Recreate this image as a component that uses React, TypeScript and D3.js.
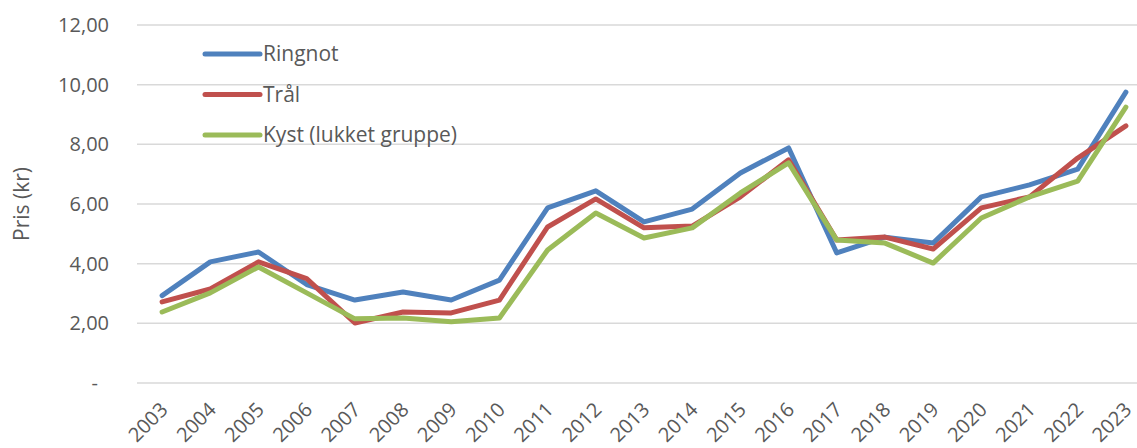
import React, { useEffect, useRef } from 'react';
import * as d3 from 'd3';

const years = [
  '2003', '2004', '2005', '2006', '2007', '2008', '2009', '2010', '2011', '2012', '2013',
  '2014', '2015', '2016', '2017', '2018', '2019', '2020', '2021', '2022', '2023',
];
const ringnot = [
  2.93, 4.06, 4.39, 3.3, 2.78, 3.05, 2.78, 3.45, 5.87, 6.44, 5.4,
  5.83, 7.04, 7.88, 4.36, 4.89, 4.69, 6.24, 6.64, 7.17, 9.75,
];
const traal = [
  2.72, 3.15, 4.06, 3.5, 2.01, 2.38, 2.35, 2.78, 5.23, 6.17, 5.2,
  5.26, 6.24, 7.48, 4.79, 4.89, 4.49, 5.87, 6.24, 7.54, 8.62,
];
const kyst = [
  2.38, 3.02, 3.89, 3.02, 2.15, 2.18, 2.05, 2.18, 4.46, 5.7, 4.86,
  5.2, 6.37, 7.38, 4.79, 4.69, 4.02, 5.53, 6.24, 6.77, 9.25,
];
const seriesNames = ['Ringnot', 'Trål', 'Kyst (lukket gruppe)'];
const yTicks = [0, 2, 4, 6, 8, 10, 12];

const colors = ['#4f81bd', '#c0504d', '#9bbb59'];
const font = "'Open Sans', sans-serif";
const textColor = '#595959';

export default function App() {
  const svgRef = useRef<SVGSVGElement | null>(null);

  const width = 1137;
  const height = 448;
  // plot area
  const margin = { top: 25, right: -13, bottom: 65, left: 138 };

  useEffect(() => {
    const svg = d3.select(svgRef.current);
    svg.selectAll('*').remove();

    const x = d3
      .scaleBand()
      .domain(years)
      .range([margin.left, width - margin.right]);
    const y = d3
      .scaleLinear()
      .domain([0, 12])
      .range([height - margin.bottom, margin.top]);

    // horizontal grid lines
    svg
      .append('g')
      .selectAll('line')
      .data(yTicks)
      .join('line')
      .attr('x1', margin.left - 1)
      .attr('x2', width)
      .attr('y1', (d) => y(d))
      .attr('y2', (d) => y(d))
      .style('stroke', '#d9d9d9')
      .style('stroke-width', '1.5');

    // y tick labels
    svg
      .append('g')
      .selectAll('text')
      .data(yTicks)
      .join('text')
      .attr('x', (d) => (d === 0 ? 98 : 109))
      .attr('y', (d) => y(d))
      .attr('dy', '0.35em')
      .attr('text-anchor', 'end')
      .style('font-family', font)
      .style('font-size', '20px')
      .style('fill', textColor)
      .text((d) => (d === 0 ? '-' : d3.format('.2f')(d).replace('.', ',')));

    // y axis title
    svg
      .append('text')
      .attr('transform', `translate(29, ${y(6)}) rotate(-90)`)
      .attr('text-anchor', 'middle')
      .style('font-family', font)
      .style('font-size', '21px')
      .style('fill', textColor)
      .text('Pris (kr)');

    // x tick labels, rotated
    const cx = (d: string) => (x(d) || 0) + x.bandwidth() / 2;
    svg
      .append('g')
      .selectAll('text')
      .data(years)
      .join('text')
      .attr('transform', (d) => `translate(${cx(d) + 2}, ${height - margin.bottom + 23}) rotate(-45)`)
      .attr('text-anchor', 'end')
      .attr('dy', '0.35em')
      .style('font-family', font)
      .style('font-size', '20px')
      .style('fill', textColor)
      .text((d) => d);

    // lines
    const line = d3
      .line<number>()
      .x((_, i) => cx(years[i]))
      .y((d) => y(d));

    [ringnot, traal, kyst].forEach((values, i) => {
      svg
        .append('path')
        .datum(values)
        .attr('d', line)
        .style('fill', 'none')
        .style('stroke', colors[i])
        .style('stroke-width', '5')
        .style('stroke-linejoin', 'round')
        .style('stroke-linecap', 'round');
    });

    // legend
    const legend = svg
      .append('g')
      .selectAll('g')
      .data(seriesNames)
      .join('g')
      .attr('transform', (_, i) => `translate(205, ${54 + i * 40.5})`);
    legend
      .append('line')
      .attr('x1', 0)
      .attr('x2', 55)
      .style('stroke', (_, i) => colors[i])
      .style('stroke-width', '5')
      .style('stroke-linecap', 'round');
    legend
      .append('text')
      .attr('x', 58)
      .attr('dy', '0.35em')
      .style('font-family', font)
      .style('font-size', '21px')
      .style('fill', textColor)
      .text((d) => d);
  });

  return (
    <svg
      ref={svgRef}
      width={width}
      height={height}
      style={{ position: 'absolute', left: 0, top: 0, background: '#fff' }}
    ></svg>
  );
}
